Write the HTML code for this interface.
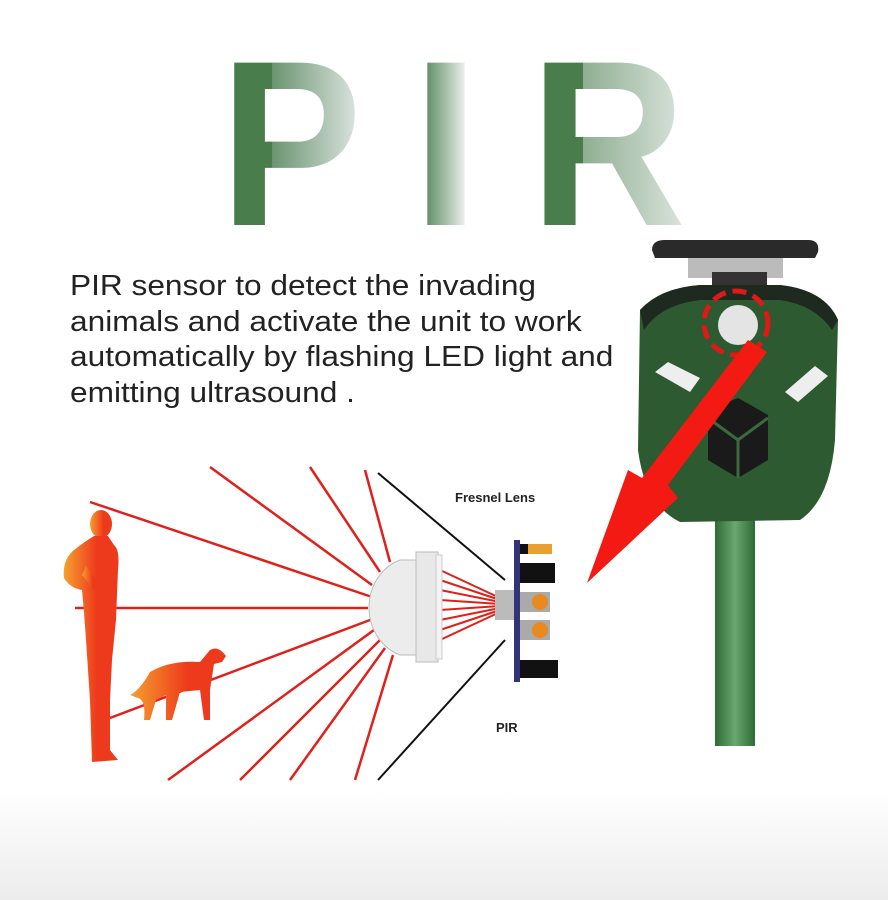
<!DOCTYPE html>
<html><head><meta charset="utf-8"><style>
html,body{margin:0;padding:0}
body{width:888px;height:900px;overflow:hidden;background:linear-gradient(#fff 0,#fff 790px,#ececec 900px);position:relative;font-family:"Liberation Sans",sans-serif}
.txt{position:absolute;left:70px;top:269px;font-size:28.5px;line-height:35.5px;color:#222;white-space:nowrap;transform:scaleX(1.11);transform-origin:0 0}
</style></head><body>
<svg width="888" height="900" style="position:absolute;left:0;top:0">
<defs>
<linearGradient id="gp" gradientUnits="userSpaceOnUse" x1="272" x2="360"><stop offset="0" stop-color="#6a9470"/><stop offset="1" stop-color="#dfe6e2"/></linearGradient>
<linearGradient id="gi" gradientUnits="userSpaceOnUse" x1="426" x2="466"><stop offset="0" stop-color="#5f8d64"/><stop offset="1" stop-color="#eef2ef"/></linearGradient>
<linearGradient id="gr" gradientUnits="userSpaceOnUse" x1="583" x2="680"><stop offset="0" stop-color="#8fae92"/><stop offset="1" stop-color="#d8e2da"/></linearGradient>
<linearGradient id="hum" x1="0" x2="1"><stop offset="0" stop-color="#f5a030"/><stop offset="0.6" stop-color="#ee3a1c"/></linearGradient>
<linearGradient id="pole" x1="0" x2="1"><stop offset="0" stop-color="#2f6a35"/><stop offset="0.5" stop-color="#6aa870"/><stop offset="1" stop-color="#2f6a35"/></linearGradient>
<clipPath id="cP1"><rect x="0" y="0" width="272" height="300"/></clipPath>
<clipPath id="cP2"><rect x="272" y="0" width="200" height="300"/></clipPath>
<clipPath id="cR1"><rect x="0" y="0" width="583" height="300"/></clipPath>
<clipPath id="cR2"><rect x="583" y="0" width="200" height="300"/></clipPath>
</defs>
<g font-family="Liberation Sans" font-weight="bold" font-size="236">
<text x="220" y="225" fill="#4a7d4c" clip-path="url(#cP1)" textLength="142" lengthAdjust="spacingAndGlyphs">P</text>
<text x="220" y="225" fill="url(#gp)" clip-path="url(#cP2)" textLength="142" lengthAdjust="spacingAndGlyphs">P</text>
<text x="410" y="225" fill="url(#gi)" textLength="72" lengthAdjust="spacingAndGlyphs">I</text>
<text x="530" y="225" fill="#4a7d4c" clip-path="url(#cR1)" textLength="156" lengthAdjust="spacingAndGlyphs">R</text>
<text x="530" y="225" fill="url(#gr)" clip-path="url(#cR2)" textLength="156" lengthAdjust="spacingAndGlyphs">R</text>
</g>
<!-- device -->
<rect x="715" y="510" width="40" height="236" fill="url(#pole)"/>
<path d="M652 250 Q652 240 665 240 L808 240 Q820 240 818 252 L815 258 L655 258 Z" fill="#2a2a2a"/>
<rect x="688" y="258" width="95" height="20" fill="#bbb"/>
<rect x="712" y="272" width="55" height="20" fill="#333"/>
<path d="M640 310 Q660 288 700 285 L780 285 Q825 290 838 320 L835 440 Q830 500 800 520 L680 522 Q645 505 638 450 Z" fill="#2d5a30"/>
<path d="M640 310 Q660 288 700 285 L780 285 Q825 290 838 320 L832 330 Q815 305 780 300 L700 300 Q660 305 644 330 Z" fill="#1e2a20"/>
<circle cx="738" cy="325" r="20" fill="#e4e4e4"/>
<circle cx="736" cy="323" r="32" fill="none" stroke="#e01818" stroke-width="5" stroke-dasharray="14 7"/>
<path d="M655 372 L668 362 L700 378 L690 392 Z" fill="#eee"/>
<path d="M785 392 L815 366 L828 376 L798 402 Z" fill="#eee"/>
<path d="M708 410 L738 398 L768 415 L768 460 L738 478 L708 460 Z" fill="#1a1a1a"/>
<path d="M738 440 L708 418 M738 440 L768 418 M738 440 L738 478" stroke="#3a6a3d" stroke-width="3"/>
<path d="M748 340 L767 352 L668 485 L678 498 L587 583 L628 470 L642 478 Z" fill="#f21a12"/>
<!-- rays -->
<g stroke="#e0201a" stroke-width="2.5">
<line x1="90" y1="502" x2="372" y2="597"/>
<line x1="210" y1="467" x2="372" y2="585"/>
<line x1="310" y1="467" x2="380" y2="572"/>
<line x1="365" y1="470" x2="390" y2="562"/>
<line x1="75" y1="608" x2="368" y2="608"/>
<line x1="110" y1="718" x2="370" y2="620"/>
<line x1="168" y1="780" x2="374" y2="630"/>
<line x1="240" y1="780" x2="380" y2="640"/>
<line x1="290" y1="780" x2="385" y2="648"/>
<line x1="355" y1="780" x2="393" y2="655"/>
<g stroke-width="2">
<line x1="440" y1="570" x2="500" y2="598"/><line x1="440" y1="580" x2="500" y2="600"/>
<line x1="440" y1="590" x2="500" y2="602"/><line x1="440" y1="600" x2="500" y2="604"/>
<line x1="440" y1="610" x2="500" y2="606"/><line x1="440" y1="620" x2="500" y2="608"/>
<line x1="440" y1="630" x2="500" y2="610"/><line x1="440" y1="640" x2="500" y2="612"/>
</g>
</g>
<g stroke="#111" stroke-width="2"><line x1="378" y1="473" x2="505" y2="580"/><line x1="505" y1="640" x2="378" y2="780"/></g>
<!-- lens -->
<path d="M400 560 A45 50 0 0 0 400 655 L418 655 L418 560 Z" fill="#ececec" stroke="#bbb"/>
<rect x="416" y="552" width="22" height="110" fill="#e8e8e8" stroke="#bbb"/>
<rect x="436" y="555" width="6" height="104" fill="#f4f4f4" stroke="#ccc"/>
<rect x="495" y="590" width="22" height="30" fill="#bbb"/>
<rect x="514" y="540" width="6" height="142" fill="#33337a"/>
<rect x="520" y="544" width="32" height="10" fill="#e8a030"/><rect x="520" y="544" width="8" height="10" fill="#111"/>
<rect x="520" y="563" width="35" height="20" fill="#111"/>
<rect x="520" y="592" width="30" height="20" fill="#aaa"/><circle cx="540" cy="602" r="8" fill="#e88a20"/>
<rect x="520" y="620" width="30" height="20" fill="#aaa"/><circle cx="540" cy="630" r="8" fill="#e88a20"/>
<rect x="520" y="660" width="38" height="18" fill="#111"/>
<text x="455" y="502" font-family="Liberation Sans" font-weight="bold" font-size="13" fill="#222">Fresnel Lens</text>
<text x="496" y="732" font-family="Liberation Sans" font-weight="bold" font-size="13" fill="#222">PIR</text>
<!-- human -->
<g fill="url(#hum)">
<ellipse cx="101" cy="524" rx="11" ry="14"/>
<path d="M94 536 L108 536 L114 545 Q120 550 118 570 L116 620 L112 660 L110 700 L110 750 L118 760 L92 762 L90 700 L86 640 L84 612 L82 590 Q70 588 64 578 Q62 560 74 550 Q84 542 94 536 Z"/>
<path d="M82 575 L94 590 L100 585 L86 566 Z"/>
</g>
<!-- dog -->
<path d="M130 695 Q140 690 150 672 Q170 660 200 662 L210 650 Q218 645 226 656 L222 662 L214 664 L210 690 L210 720 L204 720 L200 690 L180 692 L172 720 L166 720 L166 695 L156 700 L150 720 L144 720 Q146 700 138 698 Z" fill="url(#hum)"/>
</svg>
<div class="txt">PIR sensor to detect the invading<br>animals and activate the unit to work<br>automatically by flashing LED light and<br>emitting ultrasound .</div>
</body></html>
